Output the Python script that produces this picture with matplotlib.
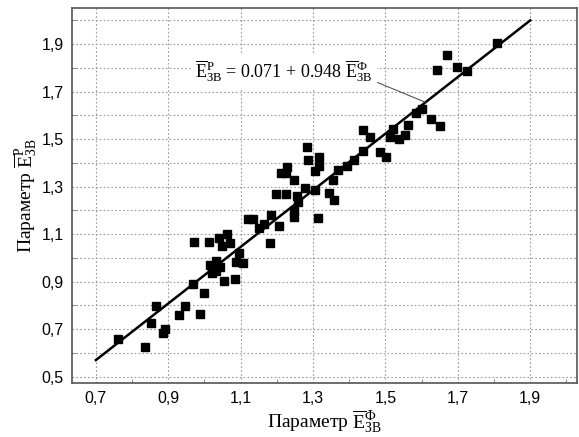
import numpy as np
import matplotlib.pyplot as plt
from matplotlib.ticker import MultipleLocator, FuncFormatter

x_meas = [0.762, 0.835, 0.851, 0.866, 0.886, 0.890, 0.930, 0.946, 0.969, 0.987,
          0.998, 0.972, 1.013, 1.041, 1.063, 1.049, 1.070, 1.015, 1.033, 1.044,
          1.022, 1.033, 1.054, 1.083, 1.087, 1.095, 1.106, 1.121, 1.135, 1.151,
          1.164, 1.183, 1.207, 1.181, 1.197, 1.225, 1.255, 1.258, 1.248, 1.246,
          1.211, 1.225, 1.228, 1.248, 1.284, 1.286, 1.316, 1.316, 1.304, 1.279,
          1.305, 1.313, 1.356, 1.369, 1.345, 1.357, 1.393, 1.414, 1.438, 1.437,
          1.457, 1.485, 1.501, 1.513, 1.522, 1.538, 1.554, 1.563, 1.584, 1.600,
          1.627, 1.652, 1.642, 1.669, 1.699, 1.724, 1.809]
y_calc = [0.657, 0.624, 0.727, 0.798, 0.685, 0.700, 0.760, 0.798, 0.890, 0.765,
          0.854, 1.068, 1.068, 1.085, 1.101, 1.050, 1.062, 0.970, 0.987, 0.963,
          0.935, 0.946, 0.904, 0.911, 0.982, 1.020, 0.979, 1.162, 1.162, 1.128,
          1.141, 1.180, 1.134, 1.064, 1.269, 1.269, 1.260, 1.234, 1.199, 1.171,
          1.356, 1.356, 1.382, 1.328, 1.467, 1.412, 1.426, 1.389, 1.367, 1.296,
          1.284, 1.166, 1.328, 1.370, 1.273, 1.244, 1.387, 1.412, 1.452, 1.539,
          1.507, 1.447, 1.424, 1.511, 1.544, 1.501, 1.519, 1.561, 1.609, 1.625,
          1.584, 1.556, 1.793, 1.854, 1.805, 1.788, 1.906]

# regression line as drawn
fit_x = [0.7, 1.9]
fit_y = [0.57, 2.0]

plt.rcParams['mathtext.fontset'] = 'custom'
plt.rcParams['mathtext.rm'] = 'Liberation Serif'
plt.rcParams['mathtext.it'] = 'Liberation Serif:italic'

fig = plt.figure(figsize=(5.79, 4.37), dpi=100)
ax = fig.add_axes([0.1244, 0.1236, 0.872, 0.858])

ax.plot(fit_x, fit_y, color='black', lw=1.8, zorder=3)
ax.plot(x_meas, y_calc, 's', color='black', ms=6.0, zorder=4)

ax.set_xlim(0.634, 2.029)
ax.set_ylim(0.4735, 2.052)
ax.xaxis.set_minor_locator(MultipleLocator(0.1))
ax.yaxis.set_minor_locator(MultipleLocator(0.1))
ax.set_xticks(np.arange(0.7, 2.0, 0.2))
ax.set_yticks(np.arange(0.5, 2.0, 0.2))
fmt = FuncFormatter(lambda v, p: f'{v:.1f}'.replace('.', ','))
ax.xaxis.set_major_formatter(fmt)
ax.yaxis.set_major_formatter(fmt)

ax.grid(True, which='major', axis='x', ls=(0, (1.5, 2)), color='#999999', lw=0.8)
ax.grid(True, which='both', axis='y', ls=(0, (1.5, 2)), color='#999999', lw=0.8)
ax.tick_params(which='major', direction='in', length=0, labelsize=11.5,
               labelfontfamily='Liberation Sans', pad=6)
ax.tick_params(which='minor', direction='in', length=3, color='#777777')
for s in ax.spines.values():
    s.set_color('#555555')
    s.set_linewidth(1.2)

ax.set_xlabel(r'Параметр $\overline{\mathrm{E}}^{\mathrm{Ф}}_{\mathrm{ЗВ}}$',
              family='Liberation Serif', fontsize=14, labelpad=2)
ax.set_ylabel(r'Параметр $\overline{\mathrm{E}}^{\mathrm{Р}}_{\mathrm{ЗВ}}$',
              family='Liberation Serif', fontsize=14, labelpad=2)

ax.annotate(r'$\overline{\mathrm{E}}^{\mathrm{Р}}_{\mathrm{ЗВ}}$ = 0.071 + 0.948 '
            r'$\overline{\mathrm{E}}^{\mathrm{Ф}}_{\mathrm{ЗВ}}$',
            xy=(1.611, 1.655), xytext=(0.975, 1.785),
            family='Liberation Serif', fontsize=13, ha='left', va='center',
            bbox=dict(boxstyle='square,pad=0.25', fc='white', ec='none'),
            arrowprops=dict(arrowstyle='-', color='#555555', lw=0.8,
                            shrinkA=0, shrinkB=0, relpos=(1.0, 0.15)),
            zorder=5)

fig.savefig('out.png', dpi=100)
